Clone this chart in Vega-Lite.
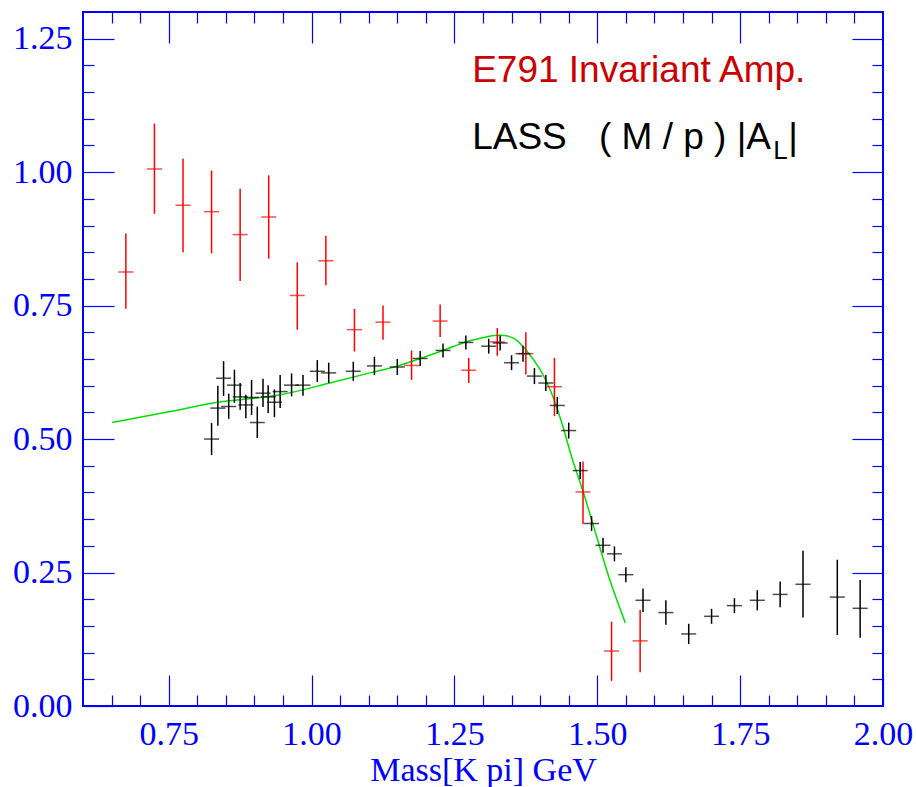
{
  "$schema": "https://vega.github.io/schema/vega-lite/v6.json",
  "width": 800,
  "height": 694,
  "autosize": "none",
  "padding": {"left": 83, "top": 12, "right": 33, "bottom": 81},
  "background": "white",
  "config": {
    "view": {"stroke": "#0000ff", "strokeWidth": 2},
    "axis": {
      "domain": false,
      "grid": false,
      "tickColor": "#0000ff",
      "tickWidth": 1.2,
      "labelColor": "#0000ff",
      "labelFont": "Liberation Serif",
      "labelFontSize": 34,
      "labelFlush": false,
      "labelOverlap": false,
      "titleColor": "#0000ff",
      "titleFont": "Liberation Serif",
      "titleFontSize": 34,
      "titleFontWeight": "normal"
    }
  },
  "datasets": {
    "pts": [
      {"exp": "E791", "m": 0.675, "a": 0.813, "lo": 0.744, "hi": 0.885},
      {"exp": "E791", "m": 0.725, "a": 1.006, "lo": 0.922, "hi": 1.091},
      {"exp": "E791", "m": 0.775, "a": 0.938, "lo": 0.850, "hi": 1.025},
      {"exp": "E791", "m": 0.825, "a": 0.926, "lo": 0.848, "hi": 1.003},
      {"exp": "E791", "m": 0.875, "a": 0.883, "lo": 0.796, "hi": 0.969},
      {"exp": "E791", "m": 0.925, "a": 0.916, "lo": 0.838, "hi": 0.994},
      {"exp": "E791", "m": 0.975, "a": 0.769, "lo": 0.705, "hi": 0.831},
      {"exp": "E791", "m": 1.025, "a": 0.834, "lo": 0.788, "hi": 0.881},
      {"exp": "E791", "m": 1.075, "a": 0.705, "lo": 0.664, "hi": 0.744},
      {"exp": "E791", "m": 1.125, "a": 0.719, "lo": 0.686, "hi": 0.750},
      {"exp": "E791", "m": 1.175, "a": 0.638, "lo": 0.611, "hi": 0.666},
      {"exp": "E791", "m": 1.225, "a": 0.721, "lo": 0.691, "hi": 0.752},
      {"exp": "E791", "m": 1.275, "a": 0.629, "lo": 0.605, "hi": 0.652},
      {"exp": "E791", "m": 1.325, "a": 0.682, "lo": 0.656, "hi": 0.708},
      {"exp": "E791", "m": 1.375, "a": 0.660, "lo": 0.621, "hi": 0.700},
      {"exp": "E791", "m": 1.425, "a": 0.598, "lo": 0.543, "hi": 0.652},
      {"exp": "E791", "m": 1.475, "a": 0.401, "lo": 0.341, "hi": 0.458},
      {"exp": "E791", "m": 1.525, "a": 0.103, "lo": 0.047, "hi": 0.158},
      {"exp": "E791", "m": 1.575, "a": 0.122, "lo": 0.063, "hi": 0.180},
      {"exp": "LASS", "m": 0.825, "a": 0.500, "lo": 0.470, "hi": 0.530},
      {"exp": "LASS", "m": 0.836, "a": 0.558, "lo": 0.525, "hi": 0.600},
      {"exp": "LASS", "m": 0.846, "a": 0.614, "lo": 0.581, "hi": 0.646},
      {"exp": "LASS", "m": 0.855, "a": 0.561, "lo": 0.538, "hi": 0.585},
      {"exp": "LASS", "m": 0.865, "a": 0.601, "lo": 0.568, "hi": 0.630},
      {"exp": "LASS", "m": 0.875, "a": 0.579, "lo": 0.555, "hi": 0.605},
      {"exp": "LASS", "m": 0.885, "a": 0.564, "lo": 0.539, "hi": 0.583},
      {"exp": "LASS", "m": 0.895, "a": 0.578, "lo": 0.545, "hi": 0.611},
      {"exp": "LASS", "m": 0.905, "a": 0.531, "lo": 0.502, "hi": 0.561},
      {"exp": "LASS", "m": 0.915, "a": 0.586, "lo": 0.560, "hi": 0.613},
      {"exp": "LASS", "m": 0.924, "a": 0.579, "lo": 0.549, "hi": 0.601},
      {"exp": "LASS", "m": 0.935, "a": 0.569, "lo": 0.541, "hi": 0.593},
      {"exp": "LASS", "m": 0.945, "a": 0.589, "lo": 0.558, "hi": 0.620},
      {"exp": "LASS", "m": 0.965, "a": 0.601, "lo": 0.580, "hi": 0.623},
      {"exp": "LASS", "m": 0.985, "a": 0.601, "lo": 0.581, "hi": 0.620},
      {"exp": "LASS", "m": 1.010, "a": 0.627, "lo": 0.607, "hi": 0.648},
      {"exp": "LASS", "m": 1.030, "a": 0.624, "lo": 0.605, "hi": 0.643},
      {"exp": "LASS", "m": 1.073, "a": 0.627, "lo": 0.609, "hi": 0.645},
      {"exp": "LASS", "m": 1.110, "a": 0.637, "lo": 0.620, "hi": 0.654},
      {"exp": "LASS", "m": 1.150, "a": 0.635, "lo": 0.620, "hi": 0.650},
      {"exp": "LASS", "m": 1.190, "a": 0.651, "lo": 0.637, "hi": 0.665},
      {"exp": "LASS", "m": 1.230, "a": 0.666, "lo": 0.653, "hi": 0.679},
      {"exp": "LASS", "m": 1.270, "a": 0.681, "lo": 0.668, "hi": 0.694},
      {"exp": "LASS", "m": 1.310, "a": 0.674, "lo": 0.660, "hi": 0.688},
      {"exp": "LASS", "m": 1.330, "a": 0.680, "lo": 0.666, "hi": 0.694},
      {"exp": "LASS", "m": 1.350, "a": 0.643, "lo": 0.629, "hi": 0.657},
      {"exp": "LASS", "m": 1.370, "a": 0.660, "lo": 0.645, "hi": 0.675},
      {"exp": "LASS", "m": 1.390, "a": 0.618, "lo": 0.603, "hi": 0.633},
      {"exp": "LASS", "m": 1.410, "a": 0.605, "lo": 0.590, "hi": 0.620},
      {"exp": "LASS", "m": 1.430, "a": 0.563, "lo": 0.547, "hi": 0.579},
      {"exp": "LASS", "m": 1.450, "a": 0.516, "lo": 0.501, "hi": 0.531},
      {"exp": "LASS", "m": 1.470, "a": 0.441, "lo": 0.425, "hi": 0.457},
      {"exp": "LASS", "m": 1.490, "a": 0.342, "lo": 0.328, "hi": 0.356},
      {"exp": "LASS", "m": 1.510, "a": 0.301, "lo": 0.287, "hi": 0.315},
      {"exp": "LASS", "m": 1.530, "a": 0.285, "lo": 0.271, "hi": 0.299},
      {"exp": "LASS", "m": 1.550, "a": 0.246, "lo": 0.232, "hi": 0.260},
      {"exp": "LASS", "m": 1.580, "a": 0.198, "lo": 0.176, "hi": 0.220},
      {"exp": "LASS", "m": 1.620, "a": 0.175, "lo": 0.152, "hi": 0.198},
      {"exp": "LASS", "m": 1.660, "a": 0.135, "lo": 0.116, "hi": 0.154},
      {"exp": "LASS", "m": 1.700, "a": 0.168, "lo": 0.154, "hi": 0.182},
      {"exp": "LASS", "m": 1.740, "a": 0.188, "lo": 0.174, "hi": 0.202},
      {"exp": "LASS", "m": 1.780, "a": 0.198, "lo": 0.179, "hi": 0.217},
      {"exp": "LASS", "m": 1.820, "a": 0.209, "lo": 0.185, "hi": 0.233},
      {"exp": "LASS", "m": 1.860, "a": 0.228, "lo": 0.166, "hi": 0.291},
      {"exp": "LASS", "m": 1.920, "a": 0.204, "lo": 0.133, "hi": 0.274},
      {"exp": "LASS", "m": 1.960, "a": 0.183, "lo": 0.128, "hi": 0.236}
    ],
    "fit": [
      {"m": 0.651, "a": 0.531},
      {"m": 0.750, "a": 0.551},
      {"m": 0.836, "a": 0.569},
      {"m": 0.945, "a": 0.583},
      {"m": 1.032, "a": 0.605},
      {"m": 1.102, "a": 0.624},
      {"m": 1.150, "a": 0.637},
      {"m": 1.190, "a": 0.651},
      {"m": 1.230, "a": 0.666},
      {"m": 1.270, "a": 0.682},
      {"m": 1.300, "a": 0.690},
      {"m": 1.320, "a": 0.694},
      {"m": 1.338, "a": 0.694},
      {"m": 1.355, "a": 0.688},
      {"m": 1.376, "a": 0.666},
      {"m": 1.400, "a": 0.630},
      {"m": 1.420, "a": 0.586},
      {"m": 1.438, "a": 0.530},
      {"m": 1.455, "a": 0.467},
      {"m": 1.476, "a": 0.399},
      {"m": 1.499, "a": 0.317},
      {"m": 1.522, "a": 0.236},
      {"m": 1.549, "a": 0.156}
    ],
    "one": [{}]
  },
  "layer": [
    {
      "data": {"name": "fit"},
      "mark": {"type": "line", "color": "#00e000", "strokeWidth": 1.5, "interpolate": "catmull-rom"},
      "encoding": {
        "x": {"field": "m", "type": "quantitative", "scale": {"domain": [0.6, 2.0], "nice": false, "zero": false},
              "axis": {"orient": "top", "values": [0.75, 1.0, 1.25, 1.5, 1.75], "tickSize": -31, "labels": false, "title": null}},
        "y": {"field": "a", "type": "quantitative", "scale": {"domain": [0, 1.3], "nice": false, "zero": false},
              "axis": {"orient": "right", "values": [0.25, 0.5, 0.75, 1.0, 1.25], "tickSize": -31, "labels": false, "title": null}}
      }
    },
    {
      "data": {"name": "fit"},
      "mark": {"type": "point", "opacity": 0},
      "encoding": {
        "x": {"field": "m", "type": "quantitative", "scale": {"domain": [0.6, 2.0], "nice": false, "zero": false},
              "axis": {"orient": "top", "values": [0.65, 0.7, 0.8, 0.85, 0.9, 0.95, 1.05, 1.1, 1.15, 1.2, 1.3, 1.35, 1.4, 1.45, 1.55, 1.6, 1.65, 1.7, 1.8, 1.85, 1.9, 1.95], "tickSize": -11, "labels": false, "title": null}},
        "y": {"field": "a", "type": "quantitative", "scale": {"domain": [0, 1.3], "nice": false, "zero": false},
              "axis": {"orient": "right", "values": [0.05, 0.1, 0.15, 0.2, 0.3, 0.35, 0.4, 0.45, 0.55, 0.6, 0.65, 0.7, 0.8, 0.85, 0.9, 0.95, 1.05, 1.1, 1.15, 1.2], "tickSize": -11, "labels": false, "title": null}}
      }
    },
    {
      "data": {"name": "pts"},
      "mark": {"type": "rule", "strokeWidth": 1.5},
      "encoding": {
        "x": {"field": "m", "type": "quantitative", "scale": {"domain": [0.6, 2.0], "nice": false, "zero": false},
              "axis": {"orient": "bottom", "values": [0.75, 1.0, 1.25, 1.5, 1.75, 2.0], "format": ".2f", "tickSize": -31, "labelPadding": 42, "title": "Mass[K pi] GeV", "titlePadding": 2}},
        "y": {"field": "lo", "type": "quantitative", "scale": {"domain": [0, 1.3], "nice": false, "zero": false},
              "axis": {"orient": "left", "values": [0, 0.25, 0.5, 0.75, 1.0, 1.25], "format": ".2f", "tickSize": -31, "labelPadding": 42, "title": null}},
        "y2": {"field": "hi"},
        "color": {"field": "exp", "type": "nominal", "scale": {"domain": ["E791", "LASS"], "range": ["#ff0000", "#000000"]}, "legend": null}
      }
    },
    {
      "data": {"name": "pts"},
      "mark": {"type": "tick", "orient": "horizontal", "size": 15, "thickness": 1.5},
      "encoding": {
        "x": {"field": "m", "type": "quantitative", "scale": {"domain": [0.6, 2.0], "nice": false, "zero": false},
              "axis": {"orient": "bottom", "values": [0.65, 0.7, 0.8, 0.85, 0.9, 0.95, 1.05, 1.1, 1.15, 1.2, 1.3, 1.35, 1.4, 1.45, 1.55, 1.6, 1.65, 1.7, 1.8, 1.85, 1.9, 1.95], "tickSize": -11, "labels": false, "title": null}},
        "y": {"field": "a", "type": "quantitative", "scale": {"domain": [0, 1.3], "nice": false, "zero": false},
              "axis": {"orient": "left", "values": [0.05, 0.1, 0.15, 0.2, 0.3, 0.35, 0.4, 0.45, 0.55, 0.6, 0.65, 0.7, 0.8, 0.85, 0.9, 0.95, 1.05, 1.1, 1.15, 1.2], "tickSize": -11, "labels": false, "title": null}},
        "color": {"field": "exp", "type": "nominal", "scale": {"domain": ["E791", "LASS"], "range": ["#ff0000", "#000000"]}, "legend": null}
      }
    },
    {
      "data": {"name": "one"},
      "mark": {"type": "text", "font": "Liberation Sans", "fontSize": 37, "color": "#cc0000", "align": "left", "baseline": "alphabetic"},
      "encoding": {"x": {"datum": 1.281, "type": "quantitative", "axis": null}, "y": {"datum": 1.168, "type": "quantitative", "axis": null}, "text": {"value": "E791 Invariant Amp."}}
    },
    {
      "data": {"name": "one"},
      "mark": {"type": "text", "font": "Liberation Sans", "fontSize": 37, "color": "#000000", "align": "left", "baseline": "alphabetic"},
      "encoding": {"x": {"datum": 1.281, "type": "quantitative", "axis": null}, "y": {"datum": 1.043, "type": "quantitative", "axis": null}, "text": {"value": "LASS"}}
    },
    {
      "data": {"name": "one"},
      "mark": {"type": "text", "font": "Liberation Sans", "fontSize": 37, "color": "#000000", "align": "left", "baseline": "alphabetic"},
      "encoding": {"x": {"datum": 1.503, "type": "quantitative", "axis": null}, "y": {"datum": 1.043, "type": "quantitative", "axis": null}, "text": {"value": "( M / p ) |A"}}
    },
    {
      "data": {"name": "one"},
      "mark": {"type": "text", "font": "Liberation Sans", "fontSize": 26, "color": "#000000", "align": "left", "baseline": "alphabetic"},
      "encoding": {"x": {"datum": 1.808, "type": "quantitative", "axis": null}, "y": {"datum": 1.024, "type": "quantitative", "axis": null}, "text": {"value": "L"}}
    },
    {
      "data": {"name": "one"},
      "mark": {"type": "text", "font": "Liberation Sans", "fontSize": 37, "color": "#000000", "align": "left", "baseline": "alphabetic"},
      "encoding": {"x": {"datum": 1.834, "type": "quantitative", "axis": null}, "y": {"datum": 1.043, "type": "quantitative", "axis": null}, "text": {"value": "|"}}
    }
  ],
  "resolve": {"axis": {"x": "independent", "y": "independent"}}
}
